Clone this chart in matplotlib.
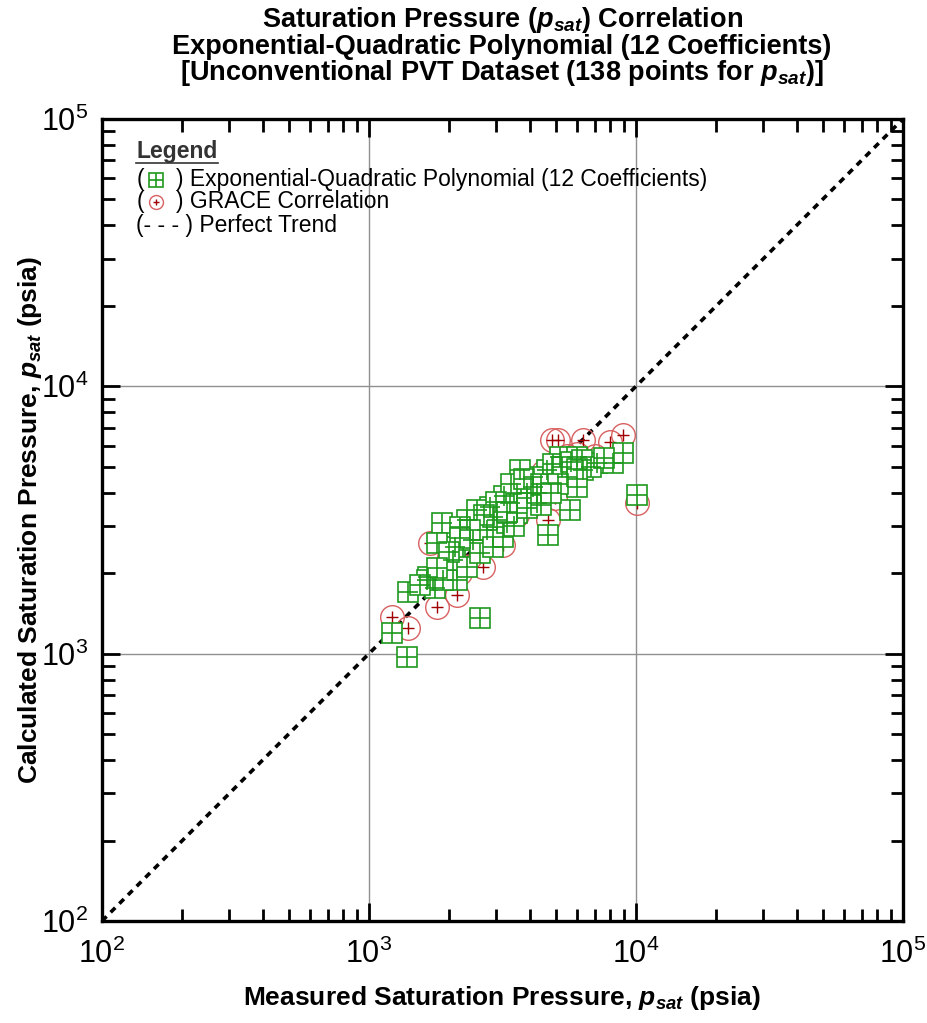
import matplotlib
matplotlib.use("Agg")
from matplotlib import pyplot as plt
from matplotlib.lines import Line2D

# measured vs calculated psat (psia)
poly_meas = [1216, 1385, 2606, 1403, 1767, 1667, 2130, 1644, 1897, 1877, 2099, 1791,
             2326, 2458, 2758, 3005, 3375, 3573, 4126, 4246, 2069, 2326, 2606, 2922,
             3184, 3894, 3573, 2839, 2531, 2191, 3278, 5188, 5998, 6353, 7129, 8228,
             8961, 10066, 5656, 5500, 4630, 4126, 3679, 4246, 4700, 5998, 2922,
             3200, 3400, 3000, 2700, 3800, 4400, 4900, 5300, 5700, 6300, 6800, 7600,
             3500, 2400, 2200, 2000, 1800, 3900, 4400, 3300, 6000, 5100, 4800, 1550]
poly_calc = [1192, 975, 1356, 1706, 1756, 1941, 1887, 1887, 1887, 3083, 2513, 2588,
             3163, 2663, 2901, 3163, 3652, 3982, 4217, 3652, 2242, 2116, 2375, 2513,
             2740, 3982, 3350, 3548, 3450, 2987, 3075, 5458, 5458, 4866, 5155, 5155,
             5620, 3925, 3450, 4594, 4866, 4594, 4866, 3982, 2780, 4217, 3256,
             3900, 4300, 3700, 3300, 4500, 4300, 5100, 5000, 5200, 5300, 5000, 5400,
             3000, 2900, 2700, 2400, 2100, 3500, 3600, 3400, 4900, 4300, 4000, 1800]

grace_meas = [1216, 1403, 1791, 2130, 1692, 4690, 4977, 4831, 5117, 6353, 7998, 8961,
              10066, 3184, 2680, 2000, 2300, 2600, 2900, 3200, 3500, 3800, 4200, 4500,
              5000, 5500, 6000, 2400, 2800, 3100, 3600, 4100, 1900, 1700, 2200, 2500,
              3000, 5200, 5800, 7000, 4400]
grace_calc = [1375, 1245, 1500, 1659, 2588, 3163, 3813, 6302, 6302, 6302, 6214, 6577,
              3652, 2551, 2116, 2300, 2600, 2800, 3100, 3500, 3800, 4200, 4500, 4800,
              5200, 5500, 5600, 2300, 2600, 3000, 3300, 3800, 2000, 1900, 2000, 3100,
              3400, 4600, 5000, 5500, 4000]

trend = [1e2, 1e5]

green = "#1e9a1e"
red_edge = "#d86060"
red_plus = "#a00000"

plt.rcParams["font.family"] = ["Liberation Sans", "DejaVu Sans"]
plt.rcParams["mathtext.fontset"] = "custom"
plt.rcParams["mathtext.rm"] = "Liberation Sans"
plt.rcParams["mathtext.it"] = "Liberation Sans:italic"
plt.rcParams["mathtext.bf"] = "Liberation Sans:bold"
plt.rcParams["mathtext.bfit"] = "Liberation Sans:bold:italic"

fig = plt.figure(figsize=(9.27, 10.23), dpi=100)
ax = fig.add_axes([0.110, 0.0997, 0.864, 0.784])

ax.set_xscale("log")
ax.set_yscale("log")
ax.set_xlim(1e2, 1e5)
ax.set_ylim(1e2, 1e5)

ax.grid(True, which="major", color="#909090", linewidth=1.0)
ax.set_axisbelow(True)

ax.plot(trend, trend, color="black", linestyle=(0, (1.8, 1.6)), linewidth=2.6, zorder=2)

# GRACE circles with a small plus inside
ax.plot(grace_meas, grace_calc, linestyle="none", marker="o", markersize=17,
        markerfacecolor="none", markeredgecolor=red_edge, markeredgewidth=1.0, zorder=3)
ax.plot(grace_meas, grace_calc, linestyle="none", marker="+", markersize=9,
        markeredgecolor=red_plus, markeredgewidth=1.0, zorder=3)

# polynomial squares with a cross dividing them into four cells
ax.plot(poly_meas, poly_calc, linestyle="none", marker="s", markersize=14,
        markerfacecolor="white", markeredgecolor=green, markeredgewidth=1.2, zorder=4)
ax.plot(poly_meas, poly_calc, linestyle="none", marker="+", markersize=14,
        markeredgecolor=green, markeredgewidth=1.2, zorder=4)

for s in ax.spines.values():
    s.set_linewidth(2.4)
ax.tick_params(which="both", direction="in", top=True, right=True, width=2.0,
               labelsize=22)
ax.tick_params(axis="x", pad=13)
ax.tick_params(axis="y", pad=10)
ax.tick_params(which="major", length=13)
ax.tick_params(which="minor", length=9)

ax.set_xlabel(r"Measured Saturation Pressure, $\mathbfit{p}_{\mathbfit{sat}}$ (psia)",
              fontsize=19, fontweight="bold", labelpad=10)
ax.set_ylabel(r"Calculated Saturation Pressure, $\mathbfit{p}_{\mathbfit{sat}}$ (psia)",
              fontsize=19, fontweight="bold")
ax.yaxis.set_label_coords(-0.072, 0.5)

cx = 0.5416
fig.text(cx, 0.980, r"Saturation Pressure ($\mathbfit{p}_{\mathbfit{sat}}$) Correlation",
         ha="center", va="center", fontsize=19.5, fontweight="bold")
fig.text(cx, 0.954, "Exponential-Quadratic Polynomial (12 Coefficients)",
         ha="center", va="center", fontsize=19.5, fontweight="bold")
fig.text(cx, 0.929, r"[Unconventional PVT Dataset (138 points for $\mathbfit{p}_{\mathbfit{sat}}$)]",
         ha="center", va="center", fontsize=19.5, fontweight="bold")

# hand-made legend block
fs = 16.5
lx = 0.043
leg = ax.text(lx, 0.959, "Legend", transform=ax.transAxes, fontsize=fs,
              fontweight="bold", color="#333333", va="center", ha="left")
rows = [0.924, 0.897, 0.867]
ax.text(lx, rows[0], "(", transform=ax.transAxes, fontsize=fs, va="center")
ax.text(0.093, rows[0], ") Exponential-Quadratic Polynomial (12 Coefficients)",
        transform=ax.transAxes, fontsize=fs, va="center")
ax.text(lx, rows[1], "(", transform=ax.transAxes, fontsize=fs, va="center")
ax.text(0.093, rows[1], ") GRACE Correlation", transform=ax.transAxes, fontsize=fs, va="center")
ax.text(lx, rows[2], "(- - - ) Perfect Trend", transform=ax.transAxes, fontsize=fs,
        va="center")
ax.plot([0.068], [rows[0]], transform=ax.transAxes, marker="s", markersize=10,
        markerfacecolor="white", markeredgecolor=green, markeredgewidth=1.2, clip_on=False)
ax.plot([0.068], [rows[0]], transform=ax.transAxes, marker="+", markersize=10,
        markeredgecolor=green, markeredgewidth=1.2, clip_on=False)
ax.plot([0.068], [rows[1]], transform=ax.transAxes, marker="o", markersize=10,
        markerfacecolor="none", markeredgecolor=red_edge, markeredgewidth=1.0, clip_on=False)
ax.plot([0.068], [rows[1]], transform=ax.transAxes, marker="+", markersize=5,
        markeredgecolor=red_plus, markeredgewidth=1.0, clip_on=False)

fig.canvas.draw()
bb = leg.get_window_extent().transformed(ax.transAxes.inverted())
ax.add_line(Line2D([bb.x0, bb.x1], [bb.y0 + 0.001, bb.y0 + 0.001], transform=ax.transAxes,
                   color="#333333", linewidth=1.2))

fig.savefig("out.png", dpi=100)
